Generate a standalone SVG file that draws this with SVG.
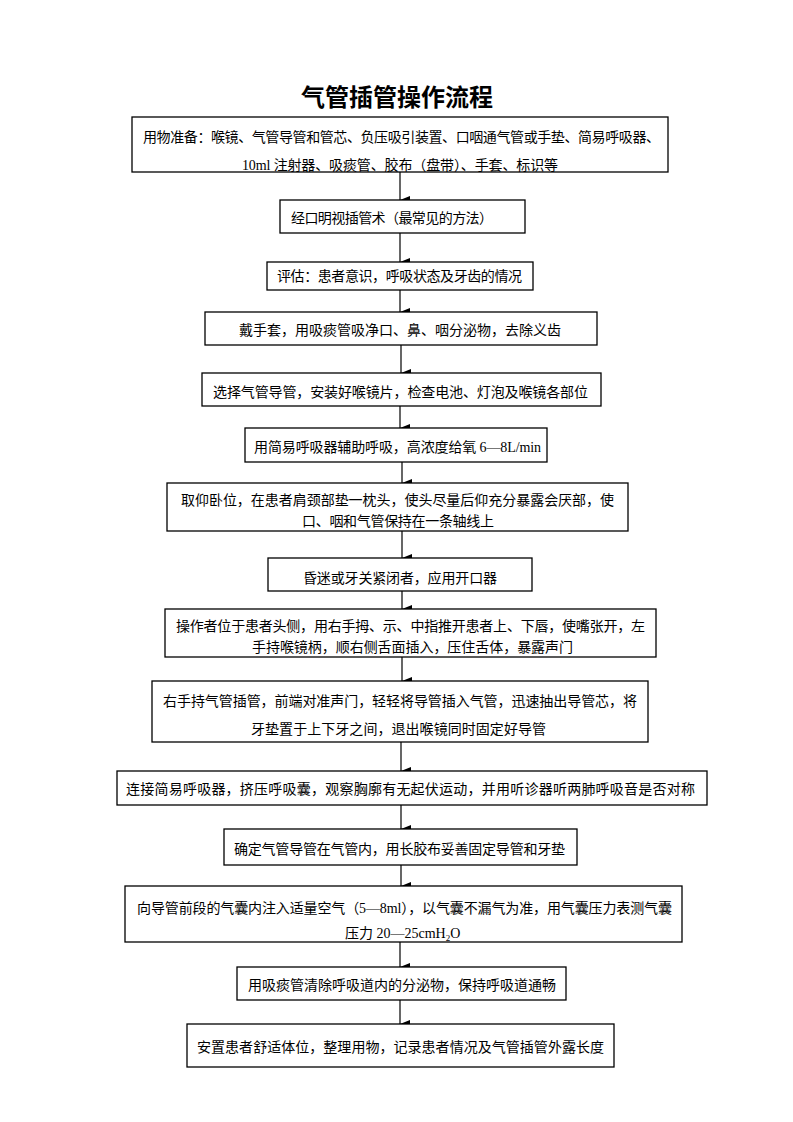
<svg xmlns="http://www.w3.org/2000/svg" width="793" height="1122" viewBox="0 0 793 1122">
<style>
.b{fill:#fff;stroke:#000;stroke-width:1.3}
.t{font-family:"Liberation Serif","Noto Sans CJK SC",serif;font-size:14px;fill:#000}
.h{font-family:"Noto Sans CJK SC",sans-serif;font-size:24px;font-weight:bold;fill:#000}
.c{stroke:#000;stroke-width:1.2;fill:none}
</style>
<defs>
<marker id="ah" markerWidth="8" markerHeight="10" refX="4" refY="10" orient="auto-start-reverse" markerUnits="userSpaceOnUse" viewBox="0 0 8 10"><path d="M0,0 L8,0 L4,10 Z" fill="#000"/></marker>
</defs>
<rect width="793" height="1122" fill="#fff"/>
<text class="h" x="397" y="106" text-anchor="middle">气管插管操作流程</text>
<g id="connectors">
<line class="c" x1="400" y1="172" x2="400" y2="200" marker-end="url(#ah)"/>
<line class="c" x1="400" y1="233" x2="400" y2="262" marker-end="url(#ah)"/>
<line class="c" x1="400" y1="290" x2="400" y2="312" marker-end="url(#ah)"/>
<line class="c" x1="401" y1="345" x2="401" y2="373" marker-end="url(#ah)"/>
<line class="c" x1="400" y1="406" x2="400" y2="428" marker-end="url(#ah)"/>
<line class="c" x1="402" y1="462" x2="402" y2="483" marker-end="url(#ah)"/>
<line class="c" x1="402" y1="531" x2="402" y2="558" marker-end="url(#ah)"/>
<line class="c" x1="402" y1="591" x2="402" y2="609" marker-end="url(#ah)"/>
<line class="c" x1="402" y1="657" x2="402" y2="681" marker-end="url(#ah)"/>
<line class="c" x1="401" y1="742" x2="401" y2="771" marker-end="url(#ah)"/>
<line class="c" x1="401" y1="805" x2="401" y2="829" marker-end="url(#ah)"/>
<line class="c" x1="401" y1="865" x2="401" y2="886" marker-end="url(#ah)"/>
<line class="c" x1="400" y1="942" x2="400" y2="967" marker-end="url(#ah)"/>
<line class="c" x1="400" y1="1000" x2="400" y2="1024" marker-end="url(#ah)"/>
</g>
<g id="n1"><rect class="b" x="132" y="117" width="536" height="55"/>
<text class="t" x="143" y="142" textLength="517">用物准备：喉镜、气管导管和管芯、负压吸引装置、口咽通气管或手垫、简易呼吸器、</text>
<text class="t" x="242" y="170" textLength="316">10ml 注射器、吸痰管、胶布（盘带）、手套、标识等</text></g>
<g id="n2"><rect class="b" x="280" y="200" width="245" height="33"/>
<text class="t" x="291" y="223" textLength="202">经口明视插管术（最常见的方法）</text></g>
<g id="n3"><rect class="b" x="267" y="262" width="266" height="28"/>
<text class="t" x="277" y="281" textLength="245">评估：患者意识，呼吸状态及牙齿的情况</text></g>
<g id="n4"><rect class="b" x="205" y="312" width="392" height="33"/>
<text class="t" x="239" y="335" textLength="322">戴手套，用吸痰管吸净口、鼻、咽分泌物，去除义齿</text></g>
<g id="n5"><rect class="b" x="202" y="373" width="399" height="33"/>
<text class="t" x="213" y="397" textLength="375">选择气管导管，安装好喉镜片，检查电池、灯泡及喉镜各部位</text></g>
<g id="n6"><rect class="b" x="245" y="428" width="302" height="34"/>
<text class="t" x="254" y="452" textLength="287">用简易呼吸器辅助呼吸，高浓度给氧 6—8L/min</text></g>
<g id="n7"><rect class="b" x="167" y="483" width="461" height="48"/>
<text class="t" x="181" y="505" textLength="433">取仰卧位，在患者肩颈部垫一枕头，使头尽量后仰充分暴露会厌部，使</text>
<text class="t" x="302" y="526" textLength="192">口、咽和气管保持在一条轴线上</text></g>
<g id="n8"><rect class="b" x="268" y="558" width="264" height="33"/>
<text class="t" x="303" y="583" textLength="194">昏迷或牙关紧闭者，应用开口器</text></g>
<g id="n9"><rect class="b" x="165" y="609" width="491" height="48"/>
<text class="t" x="176" y="631" textLength="469">操作者位于患者头侧，用右手拇、示、中指推开患者上、下唇，使嘴张开，左</text>
<text class="t" x="252" y="652" textLength="321">手持喉镜柄，顺右侧舌面插入，压住舌体，暴露声门</text></g>
<g id="n10"><rect class="b" x="152" y="681" width="496" height="61"/>
<text class="t" x="163" y="706" textLength="474">右手持气管插管，前端对准声门，轻轻将导管插入气管，迅速抽出导管芯，将</text>
<text class="t" x="251" y="734" textLength="295">牙垫置于上下牙之间，退出喉镜同时固定好导管</text></g>
<g id="n11"><rect class="b" x="117" y="771" width="590" height="34"/>
<text class="t" x="126" y="794" textLength="569">连接简易呼吸器，挤压呼吸囊，观察胸廓有无起伏运动，并用听诊器听两肺呼吸音是否对称</text></g>
<g id="n12"><rect class="b" x="224" y="829" width="353" height="36"/>
<text class="t" x="234" y="854" textLength="331">确定气管导管在气管内，用长胶布妥善固定导管和牙垫</text></g>
<g id="n13"><rect class="b" x="125" y="886" width="557" height="56"/>
<text class="t" x="137" y="913" textLength="535">向导管前段的气囊内注入适量空气（5—8ml），以气囊不漏气为准，用气囊压力表测气囊</text>
<text class="t" x="345" y="938">压力 20—25cmH<tspan font-size="9" dy="3">2</tspan><tspan dy="-3">O</tspan></text></g>
<g id="n14"><rect class="b" x="237" y="967" width="329" height="33"/>
<text class="t" x="248" y="990" textLength="308">用吸痰管清除呼吸道内的分泌物，保持呼吸道通畅</text></g>
<g id="n15"><rect class="b" x="187" y="1024" width="427" height="43"/>
<text class="t" x="197" y="1052" textLength="407">安置患者舒适体位，整理用物，记录患者情况及气管插管外露长度</text></g>
</svg>
